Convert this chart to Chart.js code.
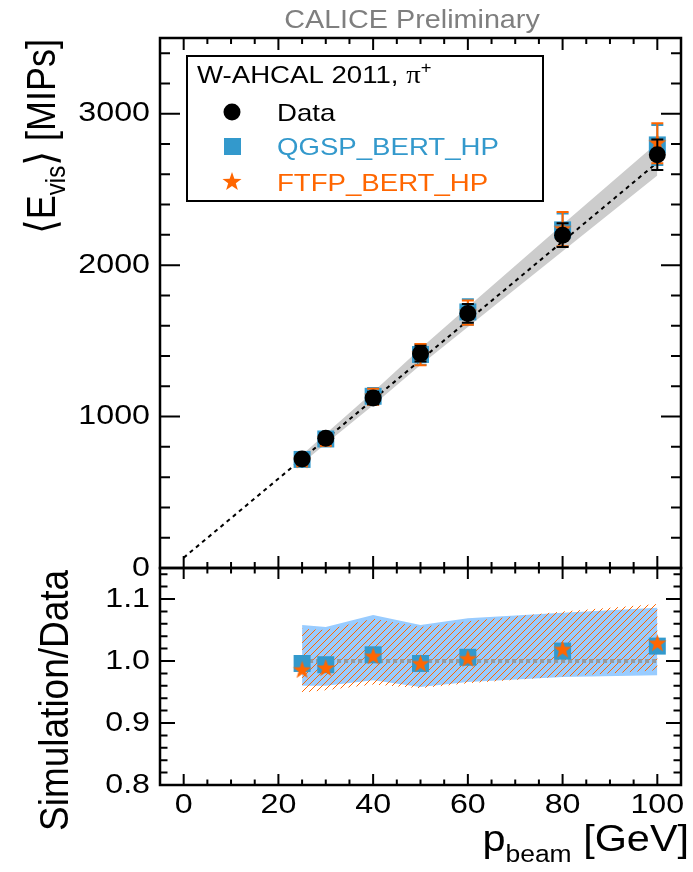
<!DOCTYPE html>
<html>
<head>
<meta charset="utf-8">
<script src="https://cdn.jsdelivr.net/npm/chart.js@4.4.0/dist/chart.umd.min.js"></script>
<style>
  body { margin: 0; background: #fff; }
  #wrap { position: relative; width: 693px; height: 872px; }
  #wrap canvas { position: absolute; left: 0; top: 0; }
</style>
</head>
<body>
<div id="wrap">
  <canvas id="top-chart" width="693" height="872"></canvas>
  <canvas id="ratio-chart" width="693" height="872"></canvas>
</div>
<script>
// beam energies [GeV]
const beamEnergies = [25, 30, 40, 50, 60, 80, 100];

// top panel: mean visible energy [MIPs]
const dataMips = [720, 857, 1123, 1416, 1681, 2198, 2729];
const dataErr = [26, 31, 41, 52, 62, 78, 100];
const qgspMips = [717, 852, 1134, 1410, 1691, 2233, 2794];
const qgspErr = [34, 41, 54, 68, 84, 108, 132];
const ftfpMips = [709, 847, 1131, 1409, 1686, 2238, 2805];
const ftfpErr = [33, 40, 53, 70, 80, 113, 132];
const bandUpper = [748, 887, 1162, 1450, 1724, 2268, 2808];
const bandLower = [692, 821, 1074, 1340, 1592, 2092, 2592];
const fitX = [0, 100];
const fitY = [68, 2678];

// bottom panel: simulation / data
const qgspRatio = [0.996, 0.994, 1.010, 0.996, 1.006, 1.016, 1.024];
const ftfpRatio = [0.985, 0.988, 1.007, 0.995, 1.003, 1.018, 1.028];
const qgspBandUp = [1.058, 1.055, 1.074, 1.058, 1.069, 1.078, 1.086];
const qgspBandDown = [0.960, 0.960, 0.969, 0.958, 0.966, 0.974, 0.977];
const ftfpBandUp = [1.052, 1.050, 1.068, 1.055, 1.064, 1.080, 1.092];
const ftfpBandDown = [0.949, 0.953, 0.962, 0.956, 0.964, 0.975, 0.985];
const unityX = [25, 100];
const unityY = [1, 1];

// axes
const xTicks = [0, 20, 40, 60, 80, 100];
const yTicksTop = [0, 1000, 2000, 3000];
const yTicksRatio = [0.8, 0.9, 1.0, 1.1];

const BLUE = "#3399cc";
const ORANGE = "#ff6600";
const FONT = '"Liberation Sans", Arial, Helvetica, "DejaVu Sans", sans-serif';
const SX = 1.15; // text is a bit wide in the original

const points = (xs, ys) => xs.map((x, i) => ({ x: x, y: ys[i] }));

function starPath(ctx, cx, cy, r) {
    const inner = r * 0.4;
    ctx.beginPath();
    for (let i = 0; i < 10; i++) {
        const rad = i % 2 ? inner : r;
        const a = -Math.PI / 2 + (i * Math.PI) / 5;
        ctx.lineTo(cx + rad * Math.cos(a), cy + rad * Math.sin(a));
    }
    ctx.closePath();
}

function makeStar(r, color) {
    const c = document.createElement("canvas");
    c.width = c.height = Math.ceil(2 * r + 2);
    const ctx = c.getContext("2d");
    ctx.fillStyle = color;
    starPath(ctx, c.width / 2, c.height / 2, r);
    ctx.fill();
    return c;
}

const starImg = makeStar(9.5, ORANGE);

// draw text runs (for sub/superscripts), optionally rotated
function drawRuns(ctx, parts, x, y, o = {}) {
    ctx.save();
    ctx.translate(x, y);
    if (o.rotate) ctx.rotate(o.rotate);
    ctx.scale(o.sx ?? 1, o.sy ?? 1);
    ctx.fillStyle = o.color || "#000";
    ctx.textAlign = "left";
    ctx.textBaseline = o.baseline || "alphabetic";
    let total = 0;
    parts.forEach((p) => {
        ctx.font = `${p.size}px ${p.font || FONT}`;
        p.w = ctx.measureText(p.t).width;
        total += p.w;
    });
    let cx = o.align === "right" ? -total : o.align === "center" ? -total / 2 : 0;
    parts.forEach((p) => {
        ctx.font = `${p.size}px ${p.font || FONT}`;
        ctx.fillStyle = p.color || o.color || "#000";
        ctx.fillText(p.t, cx, p.dy || 0);
        cx += p.w;
    });
    ctx.restore();
}

function label(ctx, str, x, y, size, align, color) {
    drawRuns(ctx, [{ t: str, size: size }], x, y, { sx: SX, align: align, baseline: "middle", color: color });
}

function minorValues(min, max, step) {
    const out = [];
    const n = Math.round((max - min) / step);
    for (let k = 0; k <= n; k++) out.push(+(min + k * step).toFixed(4));
    return out;
}

// error bars drawn just before their dataset, so markers sit on top
const errorBars = {
    id: "errorBars",
    beforeDatasetDraw(chart, args) {
        const ds = chart.data.datasets[args.index];
        if (!ds.errors) return;
        const { ctx, scales: { x, y } } = chart;
        ctx.save();
        ctx.strokeStyle = ds.errorColor;
        ctx.lineWidth = 2;
        ds.data.forEach((p, i) => {
            const px = x.getPixelForValue(p.x);
            const top = y.getPixelForValue(p.y + ds.errors[i]);
            const bot = y.getPixelForValue(p.y - ds.errors[i]);
            ctx.beginPath();
            ctx.moveTo(px, top); ctx.lineTo(px, bot);
            ctx.moveTo(px - 6, top); ctx.lineTo(px + 6, top);
            ctx.moveTo(px - 6, bot); ctx.lineTo(px + 6, bot);
            ctx.stroke();
        });
        ctx.restore();
    },
};

// hatched band between a dataset and its "hatchLower" values
const hatchBand = {
    id: "hatchBand",
    beforeDatasetDraw(chart, args) {
        const ds = chart.data.datasets[args.index];
        if (!ds.hatchLower) return;
        const { ctx, scales: { x, y } } = chart;
        ctx.save();
        ctx.beginPath();
        ds.data.forEach((p) => ctx.lineTo(x.getPixelForValue(p.x), y.getPixelForValue(p.y)));
        for (let i = ds.data.length - 1; i >= 0; i--) {
            ctx.lineTo(x.getPixelForValue(ds.data[i].x), y.getPixelForValue(ds.hatchLower[i]));
        }
        ctx.closePath();
        ctx.clip();
        ctx.strokeStyle = ds.hatchColor;
        ctx.lineWidth = 1;
        ctx.beginPath();
        const a = chart.chartArea;
        for (let s = a.left - (a.bottom - a.top); s < a.right; s += 7) {
            ctx.moveTo(s, a.bottom);
            ctx.lineTo(s + (a.bottom - a.top), a.top);
        }
        ctx.stroke();
        ctx.restore();
    },
};

// ROOT-like frame with inward ticks on all four sides
function frameAxes(cfg) {
    return {
        id: "frameAxes",
        afterDraw(chart) {
            const { ctx, chartArea: a, scales: { x, y } } = chart;
            ctx.save();
            ctx.strokeStyle = "#000";
            ctx.lineWidth = 2;
            ctx.beginPath();
            minorValues(0, 100, 5).forEach((v) => {
                const px = x.getPixelForValue(v);
                const len = xTicks.includes(v) ? cfg.xMajor : cfg.xMajor / 2;
                ctx.moveTo(px, a.bottom); ctx.lineTo(px, a.bottom - len);
                ctx.moveTo(px, a.top); ctx.lineTo(px, a.top + len);
            });
            minorValues(cfg.yMin, cfg.yMinorMax, cfg.yMinor).forEach((v) => {
                const py = y.getPixelForValue(v);
                const len = cfg.yTicks.some((t) => Math.abs(t - v) < 1e-6) ? cfg.yMajor : cfg.yMajor / 2;
                ctx.moveTo(a.left, py); ctx.lineTo(a.left + len, py);
                ctx.moveTo(a.right, py); ctx.lineTo(a.right - len, py);
            });
            ctx.stroke();
            ctx.lineWidth = 2.5;
            ctx.strokeRect(a.left, a.top, a.right - a.left, a.bottom - a.top);
            ctx.restore();

            cfg.yTicks.forEach((v) => {
                label(ctx, cfg.yFormat(v), 150, y.getPixelForValue(v), 28, "right");
            });
            if (cfg.xLabels) {
                xTicks.forEach((v) => {
                    label(ctx, String(v), x.getPixelForValue(v), 805, 28, "center");
                });
            }
            cfg.extra(ctx, chart);
        },
    };
}

function drawTopExtras(ctx) {
    drawRuns(ctx, [{ t: "CALICE Preliminary", size: 25 }], 412, 28, { sx: SX, align: "center", color: "#7f7f7f" });

    drawRuns(ctx, [
        { t: "\u27E8", size: 38 },
        { t: "E", size: 36 },
        { t: "vis", size: 24, dy: 9 },
        { t: "\u27E9", size: 38 },
        { t: " [MIPs]", size: 36 },
    ], 55, 234, { rotate: -Math.PI / 2, sy: 1.12 });

    // legend
    ctx.save();
    ctx.strokeStyle = "#000";
    ctx.lineWidth = 2;
    ctx.strokeRect(187, 56, 356, 145);
    ctx.fillStyle = "#000";
    ctx.beginPath();
    ctx.arc(232, 112, 8.5, 0, Math.PI * 2);
    ctx.fill();
    ctx.fillStyle = BLUE;
    ctx.fillRect(224, 138, 17, 17);
    ctx.fillStyle = ORANGE;
    starPath(ctx, 232, 182, 10);
    ctx.fill();
    ctx.restore();

    drawRuns(ctx, [
        { t: "W-AHCAL 2011, ", size: 24 },
        { t: "\u03C0", size: 25, font: '"Liberation Serif", serif' },
        { t: "+", size: 16, dy: -10 },
    ], 197, 83, { sx: SX });
    drawRuns(ctx, [{ t: "Data", size: 24 }], 277, 121, { sx: SX });
    drawRuns(ctx, [{ t: "QGSP_BERT_HP", size: 24 }], 277, 155, { sx: SX, color: BLUE });
    drawRuns(ctx, [{ t: "FTFP_BERT_HP", size: 24 }], 277, 191, { sx: SX, color: ORANGE });
}

function drawRatioExtras(ctx) {
    drawRuns(ctx, [{ t: "Simulation/Data", size: 37 }], 68, 831, { rotate: -Math.PI / 2, sy: 1.12 });
    drawRuns(ctx, [
        { t: "p", size: 36 },
        { t: "beam", size: 23, dy: 11 },
        { t: " [GeV]", size: 36 },
    ], 689, 851, { sx: SX, align: "right" });
}

const commonOptions = (padding, yMin, yMax) => ({
    responsive: false,
    animation: false,
    devicePixelRatio: 1,
    events: [],
    layout: { padding: padding },
    scales: {
        x: { type: "linear", min: -5, max: 105, display: false },
        y: { type: "linear", min: yMin, max: yMax, display: false },
    },
    plugins: { legend: { display: false }, tooltip: { enabled: false } },
});

new Chart(document.getElementById("top-chart"), {
    type: "scatter",
    data: {
        datasets: [
            {
                label: "band upper",
                data: points(beamEnergies, bandUpper),
                showLine: true, pointRadius: 0, borderWidth: 0,
                fill: "+1", backgroundColor: "#cccccc", order: 10,
            },
            {
                label: "band lower",
                data: points(beamEnergies, bandLower),
                showLine: true, pointRadius: 0, borderWidth: 0,
                fill: false, order: 11,
            },
            {
                label: "fit",
                data: points(fitX, fitY),
                showLine: true, pointRadius: 0,
                borderColor: "#000", borderWidth: 2, borderDash: [4, 4], order: 9,
            },
            {
                label: "QGSP_BERT_HP",
                data: points(beamEnergies, qgspMips),
                pointStyle: "rect", pointRadius: 12, borderWidth: 0,
                backgroundColor: BLUE, errors: qgspErr, errorColor: BLUE, order: 3,
            },
            {
                label: "FTFP_BERT_HP",
                data: points(beamEnergies, ftfpMips),
                pointStyle: starImg, pointRadius: 10,
                backgroundColor: ORANGE, errors: ftfpErr, errorColor: ORANGE, order: 2,
            },
            {
                label: "Data",
                data: points(beamEnergies, dataMips),
                pointStyle: "circle", pointRadius: 8.5, borderWidth: 0,
                backgroundColor: "#000", errors: dataErr, errorColor: "#000", order: 1,
            },
        ],
    },
    options: commonOptions({ left: 160, right: 5, top: 38, bottom: 304 }, 0, 3500),
    plugins: [
        errorBars,
        frameAxes({
            xMajor: 12, yMajor: 20, yMin: 0, yMinorMax: 3400, yMinor: 200,
            yTicks: yTicksTop, yFormat: (v) => String(v), xLabels: false,
            extra: drawTopExtras,
        }),
    ],
});

new Chart(document.getElementById("ratio-chart"), {
    type: "scatter",
    data: {
        datasets: [
            {
                label: "QGSP band up",
                data: points(beamEnergies, qgspBandUp),
                showLine: true, pointRadius: 0, borderWidth: 0,
                fill: "+1", backgroundColor: "rgb(153, 204, 255)", order: 12,
            },
            {
                label: "QGSP band down",
                data: points(beamEnergies, qgspBandDown),
                showLine: true, pointRadius: 0, borderWidth: 0, fill: false, order: 13,
            },
            {
                label: "FTFP band",
                data: points(beamEnergies, ftfpBandUp),
                hatchLower: ftfpBandDown, hatchColor: ORANGE,
                showLine: true, pointRadius: 0, borderWidth: 0, fill: false, order: 10,
            },
            {
                label: "unity",
                data: points(unityX, unityY),
                showLine: true, pointRadius: 0,
                borderColor: "#999999", borderWidth: 4, borderDash: [4, 3], order: 5,
            },
            {
                label: "QGSP_BERT_HP",
                data: points(beamEnergies, qgspRatio),
                pointStyle: "rect", pointRadius: 12, borderWidth: 0,
                backgroundColor: BLUE, order: 3,
            },
            {
                label: "FTFP_BERT_HP",
                data: points(beamEnergies, ftfpRatio),
                pointStyle: starImg, pointRadius: 10,
                backgroundColor: ORANGE, order: 2,
            },
        ],
    },
    options: commonOptions({ left: 160, right: 5, top: 568, bottom: 87 }, 0.8, 1.15),
    plugins: [
        hatchBand,
        frameAxes({
            xMajor: 11, yMajor: 15, yMin: 0.8, yMinorMax: 1.14, yMinor: 0.02,
            yTicks: yTicksRatio, yFormat: (v) => v.toFixed(1), xLabels: true,
            extra: drawRatioExtras,
        }),
    ],
});
</script>
</body>
</html>
